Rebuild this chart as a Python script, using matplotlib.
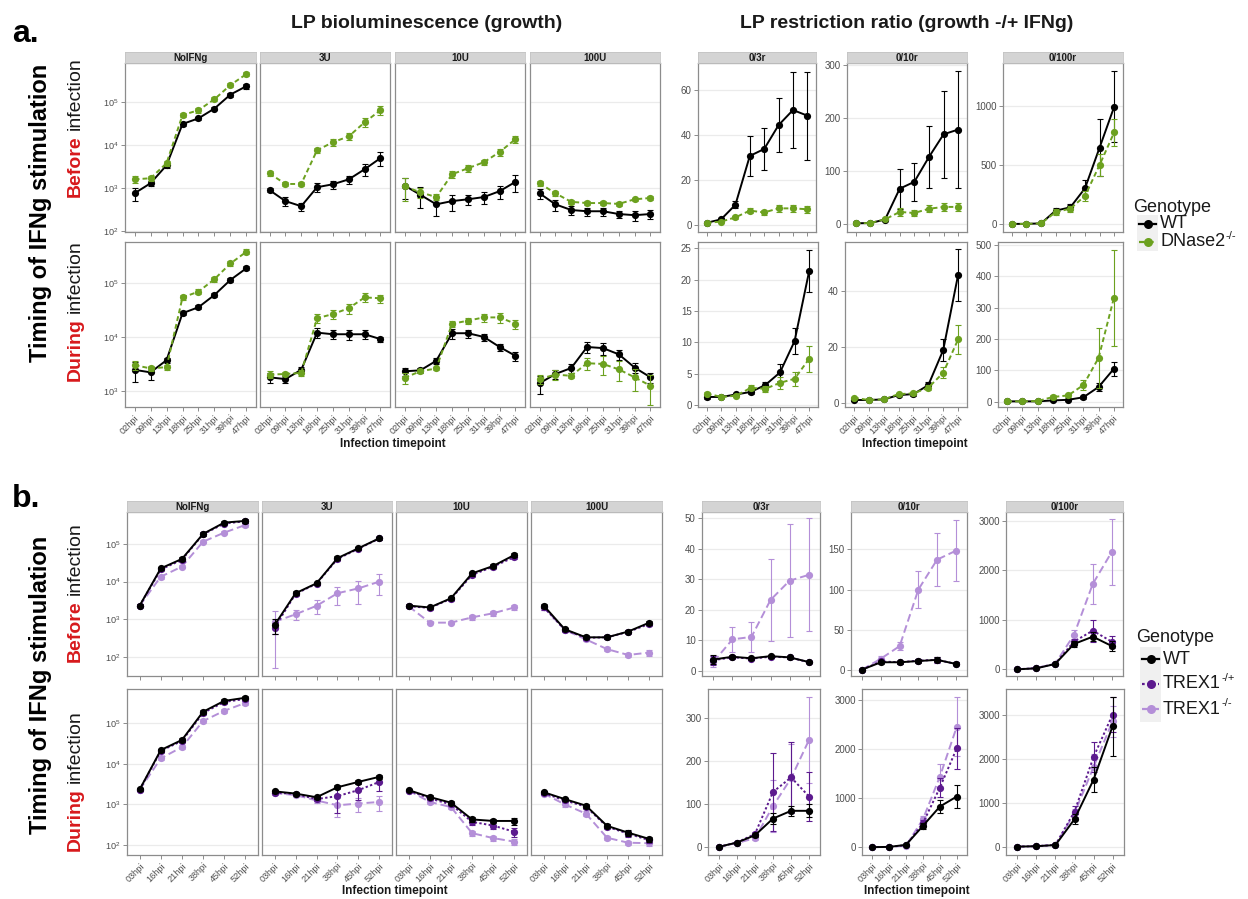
import numpy as np
import matplotlib
matplotlib.use('Agg')
import matplotlib.pyplot as plt
from matplotlib.ticker import NullLocator, FixedLocator
from matplotlib.patches import Rectangle

plt.rcParams['font.family'] = ['Liberation Sans', 'DejaVu Sans']
plt.rcParams['mathtext.fontset'] = 'custom'
plt.rcParams['mathtext.rm'] = 'Liberation Sans'
plt.rcParams['mathtext.it'] = 'Liberation Sans:italic'
plt.rcParams['mathtext.bf'] = 'Liberation Sans:bold'

# ---------------------------------------------------------------- data
doses = ['NoIFNg', '3U', '10U', '100U']
ratio_names = ['0/3r', '0/10r', '0/100r']
hpi_a = ['02hpi', '09hpi', '13hpi', '18hpi', '25hpi', '31hpi', '39hpi', '47hpi']
hpi_b = ['03hpi', '16hpi', '21hpi', '38hpi', '45hpi', '52hpi']

# a. growth, IFNg before infection (one list per dose)
a_grow_before_wt = [[760, 1300, 3400, 31000, 42000, 71000, 150000, 235000],
                    [900, 500, 380, 1050, 1230, 1600, 2750, 5000],
                    [1150, 700, 420, 500, 550, 620, 850, 1400],
                    [760, 420, 310, 290, 290, 250, 235, 250]]
a_grow_before_wt_se = [[250, 150, 400, 3000, 4000, 7000, 15000, 30000],
                       [100, 120, 80, 250, 250, 350, 800, 1800],
                       [600, 350, 200, 200, 150, 200, 300, 600],
                       [200, 120, 70, 60, 60, 50, 60, 60]]
a_grow_before_dn = [[1600, 1700, 3800, 50000, 65000, 117000, 250000, 450000],
                    [2200, 1250, 1250, 7600, 11700, 16000, 34000, 65000],
                    [1100, 800, 620, 2100, 2900, 4000, 6900, 13800],
                    [1300, 760, 480, 450, 450, 430, 550, 590]]
a_grow_before_dn_se = [[300, 200, 500, 6000, 8000, 12000, 30000, 50000],
                       [300, 150, 150, 1200, 2000, 3000, 8000, 15000],
                       [600, 200, 100, 400, 500, 600, 1200, 2500],
                       [200, 100, 50, 40, 40, 40, 50, 60]]

# a. growth, IFNg during infection
a_grow_during_wt = [[2450, 2200, 3700, 27500, 35500, 60000, 114000, 188000],
                    [1780, 1650, 2450, 12000, 11200, 11200, 11200, 9100],
                    [2300, 2400, 3600, 11700, 11700, 10000, 6500, 4450],
                    [1380, 2050, 2650, 6500, 6200, 4750, 2700, 1780]]
a_grow_during_wt_se = [[1000, 600, 400, 2500, 3000, 5000, 9000, 15000],
                       [400, 250, 300, 2500, 2000, 2500, 2000, 1000],
                       [400, 300, 400, 2500, 2000, 1500, 1000, 800],
                       [500, 400, 500, 1500, 1500, 1000, 600, 400]]
a_grow_during_dn = [[3000, 2600, 2750, 54000, 69000, 118000, 230000, 380000],
                    [2000, 2050, 2150, 22200, 26500, 34000, 54000, 52000],
                    [1750, 2300, 2600, 17500, 20000, 23000, 23000, 17500],
                    [1660, 2000, 1900, 3250, 3150, 2500, 1780, 1240]]
a_grow_during_dn_se = [[600, 300, 300, 6000, 7000, 12000, 25000, 40000],
                       [300, 200, 300, 4000, 5000, 7000, 10000, 9000],
                       [400, 200, 200, 2000, 2500, 4000, 5000, 3500],
                       [300, 400, 200, 800, 1200, 1000, 800, 700]]

# a. restriction ratios (one list per ratio)
a_ratio_before_wt = [[1.0, 2.5, 9.0, 30.7, 33.8, 44.4, 51.1, 48.6],
                     [0.5, 1.0, 7.6, 66, 79, 126, 169, 178],
                     [0.5, 1, 5, 113, 141, 302, 647, 994]]
a_ratio_before_wt_se = [[0.3, 0.8, 1.5, 9, 9.5, 12, 17, 19.5],
                        [0.2, 0.5, 2, 38, 36, 59, 82, 110],
                        [0.3, 1, 2, 20, 25, 70, 240, 300]]
a_ratio_before_dn = [[1.0, 1.5, 3.4, 6.4, 5.6, 7.4, 7.4, 7.0],
                     [0.5, 1.0, 8, 22, 20, 28, 31.5, 31.5],
                     [0.5, 1, 5, 100, 130, 237, 500, 777]]
a_ratio_before_dn_se = [[0.2, 0.3, 0.6, 1.2, 1.0, 1.5, 1.5, 1.5],
                        [0.2, 0.5, 2, 8, 6, 7, 8, 8],
                        [0.3, 1, 2, 25, 25, 40, 90, 115]]
a_ratio_during_wt = [[1.3, 1.3, 1.7, 2.1, 3.2, 5.2, 10.2, 21.4],
                     [1.0, 1.0, 1.2, 2.75, 3.1, 6.3, 18.8, 45.6],
                     [1, 1, 1, 4, 6, 14, 47, 105]]
a_ratio_during_wt_se = [[0.3, 0.2, 0.2, 0.3, 0.5, 1.3, 2.1, 3.3],
                        [0.3, 0.2, 0.2, 0.4, 0.5, 1.0, 3.8, 9.3],
                        [0.5, 0.5, 0.5, 1, 2, 5, 12, 23]]
a_ratio_during_dn = [[1.85, 1.3, 1.5, 2.75, 2.6, 3.55, 4.2, 7.4],
                     [1.8, 1.0, 1.2, 3.1, 3.35, 5.4, 10.7, 22.6],
                     [1, 1, 2, 15, 20, 53, 140, 331]]
a_ratio_during_dn_se = [[0.3, 0.2, 0.2, 0.4, 0.5, 1.0, 1.1, 2.1],
                        [0.3, 0.2, 0.2, 0.5, 0.5, 1.0, 2.0, 5.3],
                        [0.5, 0.5, 1, 5, 5, 15, 95, 152]]

# b. growth, IFNg before infection
b_grow_before_wt = [[2300, 22500, 40000, 185000, 370000, 410000],
                    [700, 4900, 9000, 42000, 77000, 142000],
                    [2300, 2050, 3600, 16500, 26000, 51000],
                    [2300, 540, 330, 330, 470, 810]]
b_grow_before_wt_se = [[200, 2000, 4000, 20000, 40000, 40000],
                       [300, 600, 1000, 5000, 8000, 15000],
                       [200, 200, 400, 2000, 3000, 6000],
                       [300, 60, 40, 40, 50, 100]]
b_grow_before_het = [[2300, 21000, 38000, 180000, 350000, 400000],
                     [600, 4700, 8800, 40000, 75000, 140000],
                     [2200, 2000, 3500, 15000, 25000, 45000],
                     [2100, 520, 320, 330, 460, 750]]
b_grow_before_het_se = [[200, 2000, 4000, 20000, 40000, 40000],
                        [200, 500, 900, 4000, 7000, 12000],
                        [200, 200, 400, 2000, 3000, 5000],
                        [300, 60, 40, 40, 50, 100]]
b_grow_before_ko = [[2300, 13500, 25000, 115000, 200000, 320000],
                    [850, 1350, 2270, 4900, 6600, 10000],
                    [2200, 810, 810, 1120, 1440, 2050],
                    [2100, 520, 290, 160, 112, 130]]
b_grow_before_ko_se = [[200, 1500, 2500, 12000, 20000, 30000],
                       [800, 400, 900, 2500, 4000, 5500],
                       [200, 80, 80, 150, 200, 300],
                       [300, 60, 30, 20, 15, 25]]

# b. growth, IFNg during infection
b_grow_during_wt = [[2340, 22000, 39000, 194000, 360000, 430000],
                    [2100, 1850, 1500, 2650, 3600, 4800],
                    [2250, 1520, 1100, 425, 390, 390],
                    [2000, 1350, 930, 295, 200, 140]]
b_grow_during_wt_se = [[200, 2000, 4000, 20000, 40000, 40000],
                       [150, 150, 150, 300, 400, 600],
                       [150, 150, 100, 60, 50, 80],
                       [150, 120, 100, 40, 30, 20]]
b_grow_during_het = [[2300, 21000, 37000, 180000, 340000, 400000],
                     [1950, 1800, 1350, 1600, 2250, 3600],
                     [2200, 1400, 1000, 370, 300, 210],
                     [1900, 1250, 880, 280, 190, 130]]
b_grow_during_het_se = [[200, 2000, 4000, 20000, 40000, 40000],
                        [150, 150, 150, 1000, 1000, 1500],
                        [150, 150, 100, 60, 60, 50],
                        [150, 120, 100, 40, 30, 20]]
b_grow_during_ko = [[2300, 13700, 26000, 114000, 205000, 320000],
                    [1900, 1700, 1250, 950, 1050, 1150],
                    [2200, 1150, 860, 195, 147, 120],
                    [1850, 1000, 590, 150, 113, 110]]
b_grow_during_ko_se = [[200, 1500, 2500, 12000, 20000, 30000],
                       [150, 150, 150, 450, 400, 450],
                       [150, 150, 100, 30, 20, 20],
                       [150, 120, 80, 20, 15, 15]]

# b. restriction ratios
b_ratio_before_wt = [[3.7, 4.6, 4.1, 4.8, 4.4, 2.9],
                     [1, 10, 10, 11.5, 13, 8],
                     [0, 20, 107, 512, 660, 472]]
b_ratio_before_wt_se = [[1.5, 0.5, 0.4, 0.5, 0.6, 0.4],
                        [0.3, 2, 2, 2, 3, 2],
                        [5, 5, 15, 60, 90, 110]]
b_ratio_before_het = [[3.5, 4.4, 4.0, 4.6, 4.4, 2.8],
                      [1, 11, 10, 12, 13, 8],
                      [0, 25, 110, 560, 782, 560]]
b_ratio_before_het_se = [[1.5, 0.5, 0.4, 0.5, 0.6, 0.4],
                         [0.3, 2, 2, 2, 4, 2],
                         [5, 5, 15, 60, 220, 120]]
b_ratio_before_ko = [[2.9, 10.3, 11.1, 23.2, 29.5, 31.4],
                     [1, 14.5, 30, 100, 137, 148],
                     [0, 25, 110, 695, 1727, 2370]]
b_ratio_before_ko_se = [[1.5, 4, 5, 13.5, 18.5, 18.5],
                        [0.3, 3, 5, 23, 33, 38],
                        [5, 5, 15, 100, 400, 660]]
b_ratio_during_wt = [[0, 10, 27, 66, 84, 84],
                     [0, 5, 47, 434, 827, 1031],
                     [0, 10, 36, 624, 1520, 2733]]
b_ratio_during_wt_se = [[1, 2, 4, 12, 12, 15],
                        [2, 5, 10, 60, 140, 230],
                        [5, 5, 10, 120, 280, 665]]
b_ratio_during_het = [[0, 10, 30, 128, 162, 117],
                      [0, 5, 40, 489, 1214, 2016],
                      [0, 10, 40, 797, 2036, 3000]]
b_ratio_during_het_se = [[1, 2, 5, 90, 82, 57],
                         [2, 5, 10, 60, 200, 420],
                         [5, 5, 10, 120, 330, 400]]
b_ratio_during_ko = [[0, 9, 20, 95, 160, 250],
                     [0, 5, 30, 570, 1438, 2456],
                     [0, 10, 40, 760, 1808, 2847]]
b_ratio_during_ko_se = [[1, 2, 4, 60, 80, 100],
                        [2, 5, 10, 70, 250, 600],
                        [5, 5, 10, 100, 300, 350]]

# ---------------------------------------------------------------- style
C_WT = '#000000'
C_DN = '#6ca11f'
C_HET = '#5c1a8e'
C_KO = '#b48fd8'
LS_WT = '-'
LS_DN = (0, (2.5, 1.6))
LS_HET = (0, (1.2, 1.2))
LS_KO = (0, (4, 2))
GRID = '#ebebeb'
BORDER = '#8c8c8c'
TICKC = '#4d4d4d'

W, H = 1248, 899
fig = plt.figure(figsize=(W / 100, H / 100), dpi=100)


def px_rect(x0, x1, y0, y1):
    return [x0 / W, 1 - y1 / H, (x1 - x0) / W, (y1 - y0) / H]


def panel(x0, x1, y0, y1, xlabels, log, ylim, yticks, show_y, show_x,
          strip=None):
    ax = fig.add_axes(px_rect(x0, x1, y0, y1))
    n = len(xlabels)
    ax.set_xlim(-0.6, n - 1 + 0.6)
    if log:
        ax.set_yscale('log')
    ax.set_ylim(*ylim)
    ax.yaxis.set_major_locator(FixedLocator(yticks))
    ax.yaxis.set_minor_locator(NullLocator())
    ax.set_xticks(range(n))
    ax.xaxis.set_minor_locator(NullLocator())
    if show_x:
        ax.set_xticklabels(xlabels, rotation=45, ha='right',
                           rotation_mode='anchor')
    else:
        ax.set_xticklabels([])
    if show_y:
        if log:
            ax.set_yticklabels([r'$10^{%d}$' % round(np.log10(t))
                                for t in yticks])
        else:
            ax.set_yticklabels([f'{t:g}' for t in yticks])
        ax.tick_params(axis='y', length=3)
    else:
        ax.set_yticklabels([])
        ax.tick_params(axis='y', length=0)
    ax.tick_params(axis='both', direction='out', color='#7a7a7a',
                   width=0.6, labelcolor=TICKC, pad=1.5)
    ax.tick_params(axis='x', length=3, labelsize=6.6)
    ax.tick_params(axis='y', labelsize=7 if not log else 6.6)
    ax.yaxis.grid(True, color=GRID, lw=0.9)
    ax.set_axisbelow(True)
    for s in ax.spines.values():
        s.set_color(BORDER)
        s.set_linewidth(0.9)
    if strip is not None:
        sax = fig.add_axes(px_rect(x0, x1, y0 - 11, y0))
        sax.set_facecolor('#d4d4d4')
        sax.set_xticks([])
        sax.set_yticks([])
        for s in sax.spines.values():
            s.set_color('#c4c4c4')
            s.set_linewidth(0.6)
        sax.text(0.5, 0.45, strip, transform=sax.transAxes, ha='center',
                 va='center', fontsize=7, fontweight='bold',
                 color='#1a1a1a')
    return ax


def series(ax, y, e, color, ls, z):
    x = np.arange(len(y))
    ax.errorbar(x, y, yerr=e, fmt='none', ecolor=color, elinewidth=0.8,
                capsize=2, capthick=0.8, zorder=z)
    ax.plot(x, y, color=color, ls=ls, lw=1.4, zorder=z + 0.1)
    ax.plot(x, y, 'o', color=color, ms=5.2, mew=0, zorder=z + 0.2)


# ---------------------------------------------------------------- panel a
a_left_x = [(125, 256), (260, 390), (395, 525), (530, 660)]
for i, (x0, x1) in enumerate(a_left_x):
    ax = panel(x0, x1, 63, 232, hpi_a, True, (10 ** 1.98, 10 ** 5.91),
               [1e2, 1e3, 1e4, 1e5], i == 0, False, strip=doses[i])
    series(ax, a_grow_before_wt[i], a_grow_before_wt_se[i], C_WT, LS_WT, 3)
    series(ax, a_grow_before_dn[i], a_grow_before_dn_se[i], C_DN, LS_DN, 4)
    ax = panel(x0, x1, 242, 407, hpi_a, True, (10 ** 2.7, 10 ** 5.76),
               [1e3, 1e4, 1e5], i == 0, True)
    series(ax, a_grow_during_wt[i], a_grow_during_wt_se[i], C_WT, LS_WT, 3)
    series(ax, a_grow_during_dn[i], a_grow_during_dn_se[i], C_DN, LS_DN, 4)

a_right_top = [((698, 816), (-3.1, 72), [0, 20, 40, 60]),
               ((847, 967), (-16, 304), [0, 100, 200, 300]),
               ((1003, 1123), (-68, 1364), [0, 500, 1000])]
a_right_bot = [((698, 818), (-0.3, 26), [0, 5, 10, 15, 20, 25]),
               ((845, 967), (-1.5, 57.4), [0, 20, 40]),
               ((998, 1123), (-17, 510), [0, 100, 200, 300, 400, 500])]
for i in range(3):
    (x0, x1), yl, yt = a_right_top[i]
    ax = panel(x0, x1, 63, 232, hpi_a, False, yl, yt, True, False,
               strip=ratio_names[i])
    series(ax, a_ratio_before_wt[i], a_ratio_before_wt_se[i], C_WT, LS_WT, 3)
    series(ax, a_ratio_before_dn[i], a_ratio_before_dn_se[i], C_DN, LS_DN, 4)
    (x0, x1), yl, yt = a_right_bot[i]
    ax = panel(x0, x1, 242, 407, hpi_a, False, yl, yt, True, True)
    series(ax, a_ratio_during_wt[i], a_ratio_during_wt_se[i], C_WT, LS_WT, 3)
    series(ax, a_ratio_during_dn[i], a_ratio_during_dn_se[i], C_DN, LS_DN, 4)

# ---------------------------------------------------------------- panel b
b_left_x = [(127, 258), (262, 392), (396, 527), (531, 662)]
for i, (x0, x1) in enumerate(b_left_x):
    ax = panel(x0, x1, 512, 676, hpi_b, True, (10 ** 1.49, 10 ** 5.85),
               [1e2, 1e3, 1e4, 1e5], i == 0, False, strip=doses[i])
    series(ax, b_grow_before_ko[i], b_grow_before_ko_se[i], C_KO, LS_KO, 3)
    series(ax, b_grow_before_het[i], b_grow_before_het_se[i], C_HET, LS_HET, 4)
    series(ax, b_grow_before_wt[i], b_grow_before_wt_se[i], C_WT, LS_WT, 5)
    ax = panel(x0, x1, 689, 855, hpi_b, True, (10 ** 1.75, 10 ** 5.85),
               [1e2, 1e3, 1e4, 1e5], i == 0, True)
    series(ax, b_grow_during_ko[i], b_grow_during_ko_se[i], C_KO, LS_KO, 3)
    series(ax, b_grow_during_het[i], b_grow_during_het_se[i], C_HET, LS_HET, 4)
    series(ax, b_grow_during_wt[i], b_grow_during_wt_se[i], C_WT, LS_WT, 5)

b_right_top = [((702, 820), (-1.7, 52), [0, 10, 20, 30, 40, 50]),
               ((851, 967), (-7, 196), [0, 50, 100, 150]),
               ((1006, 1123), (-135, 3180), [0, 1000, 2000, 3000])]
b_right_bot = [((708, 820), (-19, 368), [0, 100, 200, 300]),
               ((862, 967), (-160, 3220), [0, 1000, 2000, 3000]),
               ((1006, 1124), (-190, 3580), [0, 1000, 2000, 3000])]
for i in range(3):
    (x0, x1), yl, yt = b_right_top[i]
    ax = panel(x0, x1, 512, 676, hpi_b, False, yl, yt, True, False,
               strip=ratio_names[i])
    series(ax, b_ratio_before_ko[i], b_ratio_before_ko_se[i], C_KO, LS_KO, 3)
    series(ax, b_ratio_before_het[i], b_ratio_before_het_se[i], C_HET, LS_HET, 4)
    series(ax, b_ratio_before_wt[i], b_ratio_before_wt_se[i], C_WT, LS_WT, 5)
    (x0, x1), yl, yt = b_right_bot[i]
    ax = panel(x0, x1, 689, 855, hpi_b, False, yl, yt, True, True)
    series(ax, b_ratio_during_ko[i], b_ratio_during_ko_se[i], C_KO, LS_KO, 3)
    series(ax, b_ratio_during_het[i], b_ratio_during_het_se[i], C_HET, LS_HET, 4)
    series(ax, b_ratio_during_wt[i], b_ratio_during_wt_se[i], C_WT, LS_WT, 5)

# ---------------------------------------------------------------- annotations
ov = fig.add_axes([0, 0, 1, 1], zorder=20)
ov.set_xlim(0, W)
ov.set_ylim(H, 0)
ov.axis('off')
ov.patch.set_alpha(0)
renderer = fig.canvas.get_renderer()

ov.text(12, 42, 'a.', fontsize=23, fontweight='bold', ha='left',
        va='baseline')
ov.text(12, 507, 'b.', fontsize=23, fontweight='bold', ha='left',
        va='baseline')
ov.text(427, 28, 'LP bioluminescence (growth)', fontsize=14,
        fontweight='bold', ha='center', va='baseline', color='#1a1a1a')
ov.text(907, 28, 'LP restriction ratio (growth -/+ IFNg)', fontsize=14,
        fontweight='bold', ha='center', va='baseline', color='#1a1a1a')

for (x, y) in [(393, 444), (915, 444), (395, 891), (917, 891)]:
    ov.text(x, y, 'Infection timepoint', fontsize=8.5, fontweight='bold',
            ha='center', va='center', color='#1a1a1a')

for yc in (213, 685):
    ov.text(41, yc, 'Timing of IFNg stimulation', fontsize=17,
            fontweight='bold', rotation=90, ha='center', va='center')


def two_tone_vertical(x, yc, first, rest):
    t1 = ov.text(x, 0, first, fontsize=14, fontweight='bold',
                 color='#d7191c', rotation=90, rotation_mode='anchor',
                 ha='left', va='center')
    t2 = ov.text(x, 0, rest, fontsize=14, color='#1a1a1a', rotation=90,
                 rotation_mode='anchor', ha='left', va='center')
    l1 = t1.get_window_extent(renderer).height
    l2 = t2.get_window_extent(renderer).height
    gap = 5
    total = l1 + gap + l2
    y_start = yc + total / 2
    t1.set_position((x, y_start))
    t2.set_position((x, y_start - l1 - gap))


two_tone_vertical(75, 127, 'Before', 'infection')
two_tone_vertical(75, 311, 'During', 'infection')
two_tone_vertical(75, 592, 'Before', 'infection')
two_tone_vertical(75, 781, 'During', 'infection')


def label_with_sup(x, y, base, sup):
    t = ov.text(x, y, base, fontsize=13, ha='left', va='center',
                color='#1a1a1a')
    if sup:
        w = t.get_window_extent(renderer).width
        ov.text(x + w + 0.5, y - 6, sup, fontsize=8, ha='left',
                va='center', color='#1a1a1a')


def legend(x, y_title, entries):
    ov.text(x, y_title, 'Genotype', fontsize=13, ha='left', va='baseline',
            color='#1a1a1a')
    ys = [e[0] for e in entries]
    step = ys[1] - ys[0]
    ov.add_patch(Rectangle((x + 4, ys[0] - step / 2), 21,
                           ys[-1] - ys[0] + step, facecolor='#f0f0f0',
                           edgecolor='none'))
    for yk, base, sup, color, ls in entries:
        ov.plot([x + 6, x + 23], [yk, yk], color=color, ls=ls, lw=1.6)
        ov.plot([x + 14.5], [yk], 'o', color=color, ms=6.5, mew=0)
        label_with_sup(x + 27, yk, base, sup)


legend(1133, 212, [(224, 'WT', '', C_WT, LS_WT),
                   (242, 'DNase2', '-/-', C_DN, LS_DN)])
legend(1136, 642, [(659, 'WT', '', C_WT, LS_WT),
                   (684, 'TREX1', '-/+', C_HET, LS_HET),
                   (709, 'TREX1', '-/-', C_KO, LS_KO)])

fig.savefig('out.png', dpi=100)
